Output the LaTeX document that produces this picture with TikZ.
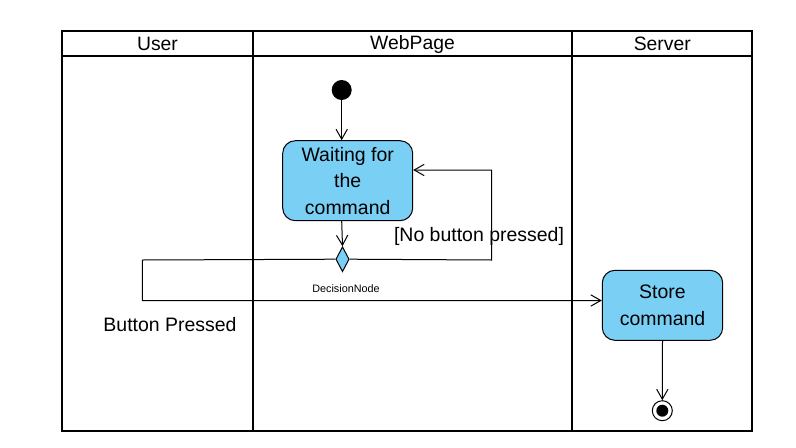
\documentclass[tikz,border=0pt]{standalone}
\usepackage{fontspec}
\setmainfont{Liberation Sans}
\usetikzlibrary{arrows.meta,shapes.geometric}
\definecolor{actfill}{RGB}{122,207,245}
\tikzset{
  frame/.style={line width=1.6pt, draw=black},
  action/.style={draw=black, line width=0.75pt, fill=actfill, rounded corners=9.5pt, align=center, font=\fontsize{14.6pt}{19.8pt}\selectfont, inner sep=0pt},
  flow/.style={draw=black, line width=0.75pt, -{Straight Barb[length=7.5pt,width=8.5pt,line width=0.75pt]}},
  lanehead/.style={font=\fontsize{14.5pt}{17pt}\selectfont},
  biglabel/.style={font=\fontsize{14.6pt}{17pt}\selectfont},
  smalllabel/.style={font=\fontsize{8.1pt}{10pt}\selectfont},
}
\begin{document}
\begin{tikzpicture}[x=0.75pt,y=-0.75pt]
\useasboundingbox (0,0) rectangle (796,447);
% swimlanes
\draw[frame] (62.3,30.7) rectangle (752.3,430.7);
\draw[frame] (62.3,56) -- (752.3,56);
\draw[frame] (252.7,30.7) -- (252.7,430.7);
\draw[frame] (572.3,30.7) -- (572.3,430.7);
\node[lanehead] (hUser) at (157.5,44) {User};
\node[lanehead] (hWeb) at (412.5,44) {WebPage};
\node[lanehead] (hServer) at (662.3,44) {Server};
% nodes
\node[circle, fill=black, minimum size=15pt, inner sep=0pt] (init) at (341.7,90) {};
\node[action, minimum width=97.5pt, minimum height=60pt] (wait) at (347.7,180.7) {Waiting for\\the\\command};
\node[diamond, draw=black, line width=0.75pt, fill=actfill, minimum width=10pt, minimum height=18.75pt, inner sep=0pt, aspect=0.5] (dec) at (342.5,259.2) {};
\node[smalllabel] (declabel) at (346,289) {DecisionNode};
\node[action, minimum width=90.3pt, minimum height=52.5pt] (store) at (662.5,305.3) {Store\\command};
\node[circle, draw=black, line width=0.75pt, fill=white, minimum size=15pt, inner sep=0pt] (final) at (662.3,410.7) {};
\node[circle, fill=black, minimum size=9pt, inner sep=0pt] (finalin) at (662.3,410.7) {};
% coordinates
\coordinate (r1) at (491.7,260);
\coordinate (r2) at (491.7,170);
\coordinate (l1) at (142.3,260);
\coordinate (l2) at (142.3,300.5);
% connectors
\draw[flow] (init.south) -- (init.south |- wait.north);
\draw[flow] (init.south |- wait.south) -- (dec.north);
\draw[flow] (dec.east) -- (r1) -- (r2) -- (wait.east |- r2);
\draw[flow] (dec.west) -- (l1) -- (l2) -- (store.west |- l2);
\draw[flow] (store.south) -- (final.north);
% labels
\node[biglabel] (lno) at (479,236) {[No button pressed]};
\node[biglabel] (lyes) at (170,325) {Button Pressed};
\end{tikzpicture}
\end{document}
